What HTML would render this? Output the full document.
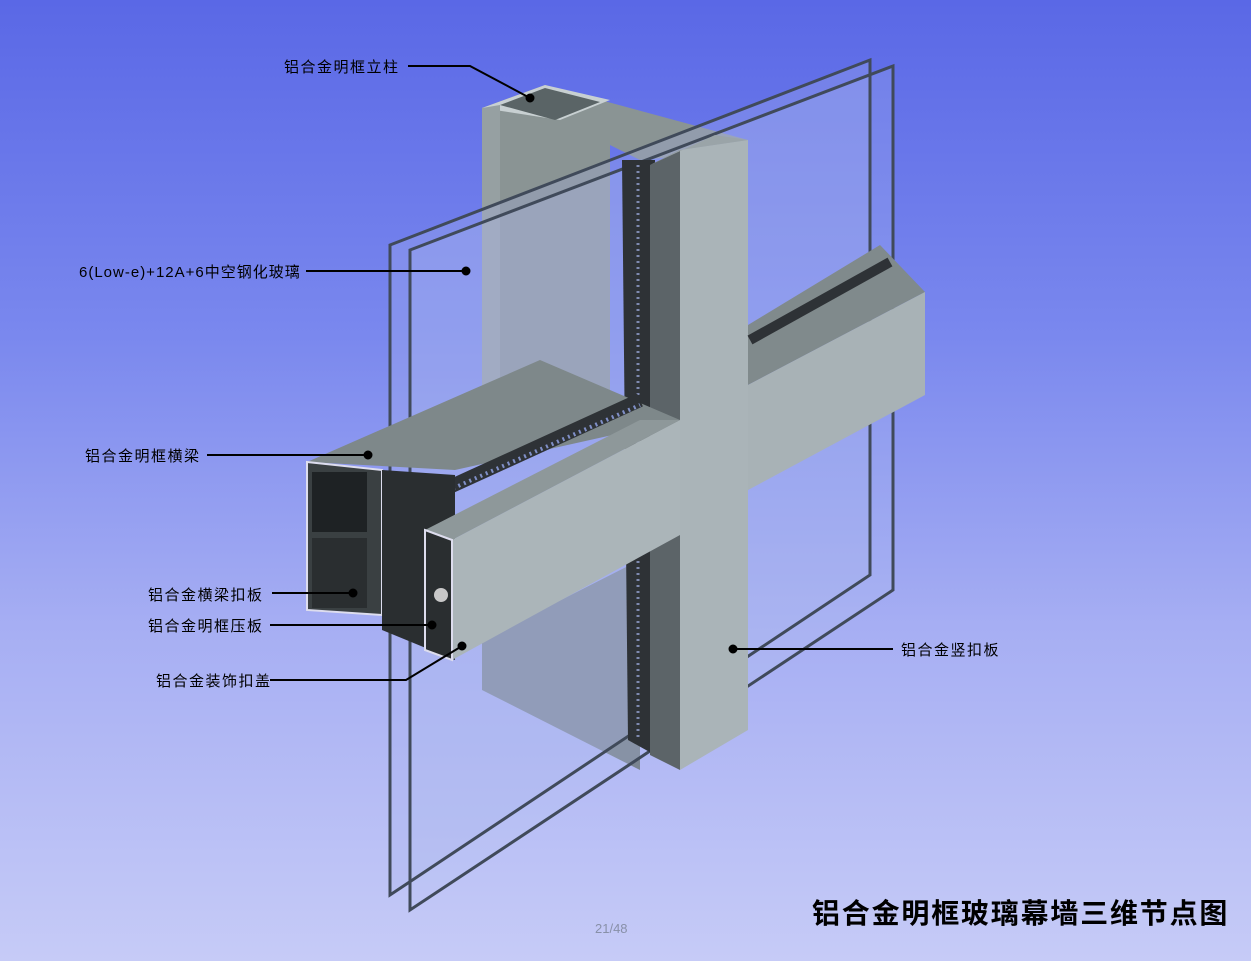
<!DOCTYPE html>
<html><head><meta charset="utf-8"><style>
html,body{margin:0;padding:0}
body{width:1251px;height:961px;overflow:hidden;background:linear-gradient(180deg,#5a68e6 0%,#7a88ee 35%,#a6aef3 65%,#c6cbf7 100%);position:relative;font-family:"Liberation Sans","Noto Sans CJK SC",sans-serif}
.l{position:absolute;font-size:15px;letter-spacing:1.5px;color:#000;white-space:nowrap}
</style></head><body>
<svg width="1251" height="961" style="position:absolute;left:0;top:0">
<!-- back mullion -->
<polygon points="482,108 545,85 748,140 748,150 640,160 610,145 610,395 482,395" fill="#8a9494"/>
<polygon points="482,108 545,85 610,100 560,120" fill="#c8d0d2"/>
<polygon points="500,105 545,88 600,102 555,120" fill="#5a6466"/>
<polygon points="482,108 500,105 500,395 482,395" fill="#96a0a2"/>
<!-- lower back mullion -->
<polygon points="482,640 640,560 640,770 482,690" fill="#7a8490"/>
<!-- glass panes fill (in front of mullion) -->
<polygon points="390,245 870,60 870,575 390,895" fill="#a8b4ec" fill-opacity="0.28"/>
<polygon points="410,250 893,66 893,590 410,910" fill="#b8c2f0" fill-opacity="0.22"/>
<polygon points="390,245 870,60 870,575 390,895" fill="none" stroke="#404a5a" stroke-width="3"/>
<polygon points="410,250 893,66 893,590 410,910" fill="none" stroke="#404a5a" stroke-width="3"/>
<!-- dark spacer vertical -->
<polygon points="622,160 655,160 655,755 628,740" fill="#2e3236"/>
<line x1="638" y1="165" x2="638" y2="740" stroke="#7f8ab0" stroke-width="3" stroke-dasharray="2,4"/>
<!-- cover plate side and front -->
<polygon points="650,165 680,150 680,770 650,755" fill="#5c6468"/>
<polygon points="680,150 748,140 748,730 680,770" fill="#aab4b8"/>
<polygon points="650,165 680,150 748,140 715,135" fill="#9aa4a8"/>
<!-- right transom -->
<polygon points="748,325 880,245 925,292 748,385" fill="#808a8c"/>
<line x1="750" y1="340" x2="890" y2="262" stroke="#2e3236" stroke-width="10"/>
<polygon points="748,385 925,292 925,395 748,490" fill="#a8b2b6"/>
<!-- left transom main -->
<polygon points="307,462 540,360 680,420 455,470" fill="#7e888a"/>
<line x1="410" y1="505" x2="640" y2="400" stroke="#2e3236" stroke-width="14"/>
<line x1="420" y1="503" x2="640" y2="405" stroke="#8090c8" stroke-width="4" stroke-dasharray="2,4"/>
<polygon points="307,462 382,470 382,615 307,610" fill="#3a4042" stroke="#dde" stroke-width="2"/>
<rect x="312" y="472" width="55" height="60" fill="#1e2224"/>
<rect x="312" y="538" width="55" height="70" fill="#2a2e30"/>
<polygon points="382,470 455,475 455,660 382,630" fill="#2a2e30"/>
<polygon points="425,530 640,420 680,420 452,540" fill="#8e989a"/>
<polygon points="452,540 680,420 680,535 452,660" fill="#abb5b9"/>
<polygon points="425,530 452,540 452,660 425,650" fill="#2a2e30" stroke="#dde" stroke-width="2"/>
<circle cx="441" cy="595" r="7" fill="#c8c8c8"/>
<!-- leaders -->
<g stroke="#000" stroke-width="2" fill="#000">
<polyline points="408,66 470,66 530,98" fill="none"/><circle cx="530" cy="98" r="3.5"/>
<line x1="306" y1="271" x2="466" y2="271"/><circle cx="466" cy="271" r="3.5"/>
<line x1="207" y1="455" x2="368" y2="455"/><circle cx="368" cy="455" r="3.5"/>
<line x1="272" y1="593" x2="353" y2="593"/><circle cx="353" cy="593" r="3.5"/>
<line x1="270" y1="625" x2="432" y2="625"/><circle cx="432" cy="625" r="3.5"/>
<polyline points="270,680 406,680 462,646" fill="none"/><circle cx="462" cy="646" r="3.5"/>
<line x1="733" y1="649" x2="893" y2="649"/><circle cx="733" cy="649" r="3.5"/>
</g>
</svg>
<div class="l" style="left:284px;top:56px">铝合金明框立柱</div>
<div class="l" style="left:79px;top:261px;letter-spacing:1px">6(Low-e)+12A+6中空钢化玻璃</div>
<div class="l" style="left:85px;top:445px">铝合金明框横梁</div>
<div class="l" style="left:148px;top:584px">铝合金横梁扣板</div>
<div class="l" style="left:148px;top:615px">铝合金明框压板</div>
<div class="l" style="left:156px;top:670px">铝合金装饰扣盖</div>
<div class="l" style="left:901px;top:639px">铝合金竖扣板</div>
<div class="l" style="left:812px;top:892px;font-size:28px;letter-spacing:1.8px;font-weight:bold">铝合金明框玻璃幕墙三维节点图</div>
<div class="l" style="left:595px;top:921px;font-size:13px;letter-spacing:0;color:#8890a8">21/48</div>
</body></html>
